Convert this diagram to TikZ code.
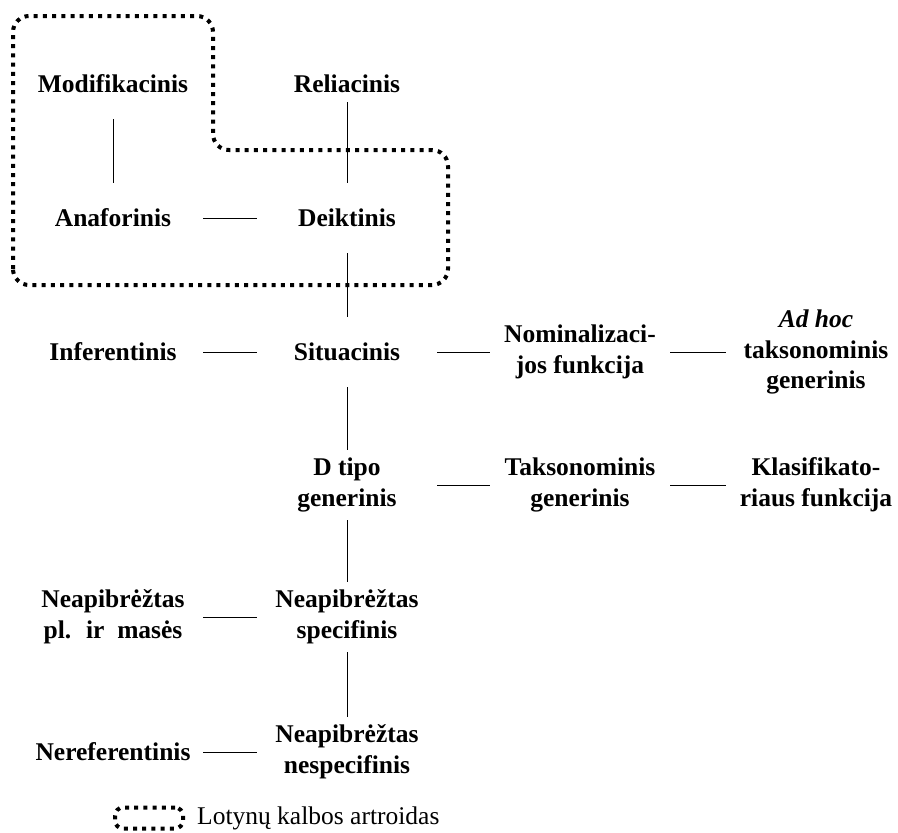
\documentclass[tikz,border=0pt]{standalone}
\usepackage{fontspec}
\setmainfont{Liberation Serif}
\usetikzlibrary{calc}

\tikzset{
  kat/.style={font=\fontsize{25.5pt}{30.6pt}\selectfont\bfseries, align=center,
    minimum width=180pt, minimum height=70pt, inner sep=0pt},
  jung/.style={line width=1pt},
  artr/.style={line width=4pt, dash pattern=on 4pt off 5.2pt, rounded corners=16pt}
}

\begin{document}
\begin{tikzpicture}[x=1pt, y=-1pt]
  \useasboundingbox (0,0) rectangle (898,833);

  % Pirmas stulpelis
  \node[kat] (modif) at (113,84) {Modifikacinis};
  \node[kat] (anafor) at (113,218) {Anaforinis};
  \node[kat] (infer) at (113,352) {Inferentinis};
  \node[kat] (neappl) at (113,617) {Neapibrėžtas\\pl.~ ir~ masės};
  \node[kat] (neref) at (113,752) {Nereferentinis};

  % Antras stulpelis
  \node[kat] (reliac) at (347,84) {Reliacinis};
  \node[kat] (deikt) at (347,218) {Deiktinis};
  \node[kat] (situac) at (347,352) {Situacinis};
  \node[kat] (dtipo) at (347,485) {D tipo\\generinis};
  \node[kat] (neapspec) at (347,617) {Neapibrėžtas\\specifinis};
  \node[kat] (neapnesp) at (347,752) {Neapibrėžtas\\nespecifinis};

  % Trečias ir ketvirtas stulpeliai
  \node[kat] (nominal) at (580,352) {Nominalizaci-\\jos funkcija};
  \node[kat] (adhoc) at (816,352) {\textit{Ad hoc}\\taksonominis\\generinis};
  \node[kat] (takson) at (580,485) {Taksonominis\\generinis};
  \node[kat] (klasif) at (816,485) {Klasifikato-\\riaus funkcija};

  % Jungtys
  \draw[jung] (modif) -- (anafor);
  \draw[jung, shorten <=-17pt] (reliac) -- (deikt);
  \draw[jung] (anafor) -- (deikt);
  \draw[jung] (deikt) -- (situac);
  \draw[jung] (infer) -- (situac);
  \draw[jung] (situac) -- (nominal);
  \draw[jung] (nominal) -- (adhoc);
  \draw[jung] (situac) -- (dtipo);
  \draw[jung] (dtipo) -- (takson);
  \draw[jung] (takson) -- (klasif);
  \draw[jung] (dtipo) -- (neapspec);
  \draw[jung] (neappl) -- (neapspec);
  \draw[jung] (neapspec) -- (neapnesp);
  \draw[jung] (neref) -- (neapnesp);

  % Lotynų kalbos artroidas
  \draw[artr] (13,285) -- (13,16) -- (213,16) -- (213,150) -- (448,150)
    -- (448,285) -- cycle;

  % Legenda
  \node[artr, draw, rounded corners=8pt, minimum width=68pt, minimum height=21pt,
    inner sep=0pt] (legbox) at (149,818) {};
  \node[font=\fontsize{25.5pt}{30.6pt}\selectfont, anchor=west, inner sep=0pt]
    (legtext) at ($(legbox.east)+(12,0)$) {Lotynų kalbos artroidas};
\end{tikzpicture}
\end{document}
